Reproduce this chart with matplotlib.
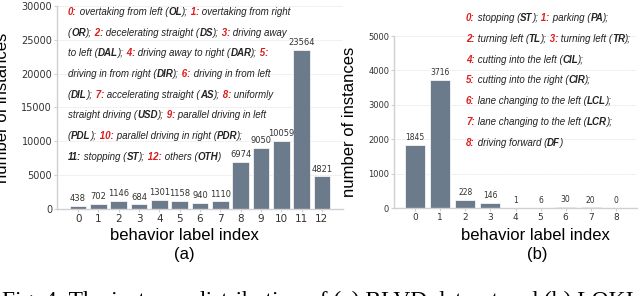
import re
import matplotlib
matplotlib.use("Agg")
import matplotlib.pyplot as plt

# (a) BLVD
blvd_idx = list(range(13))
blvd_counts = [438, 702, 1146, 684, 1301, 1158, 940, 1110, 6974, 9050, 10059, 23564, 4821]
blvd_legend = [
    "#0:# overtaking from left (*OL*); #1:# overtaking from right",
    "(*OR*); #2:# decelerating straight (*DS*); #3:# driving away",
    "to left (*DAL*); #4:# driving away to right (*DAR*); #5:#",
    "driving in from right (*DIR*); #6:# driving in from left",
    "(*DIL*); #7:# accelerating straight (*AS*); #8:# uniformly",
    "straight driving (*USD*); #9:# parallel driving in left",
    "(*PDL*); #10:# parallel driving in right (*PDR*);",
    "*11:* stopping (*ST*); #12:# others (*OTH*)",
]

# (b) LOKI
loki_idx = list(range(9))
loki_counts = [1845, 3716, 228, 146, 1, 6, 30, 20, 0]
loki_legend = [
    "#0:# stopping (*ST*); #1:# parking (*PA*);",
    "#2:# turning left (*TL*); #3:# turning left (*TR*);",
    "#4:# cutting into the left (*CIL*);",
    "#5:# cutting into the right (*CIR*);",
    "#6:# lane changing to the left (*LCL*);",
    "#7:# lane changing to the left (*LCR*);",
    "#8:# driving forward (*DF*)",
]

caption = "Fig. 4: The instance distribution of (a) BLVD dataset and (b) LOKI dataset."

BAR = "#6c7b8b"
RED = "#d81e1e"
INK = "#222222"
NARROW = ["Liberation Sans Narrow", "Liberation Sans", "DejaVu Sans"]

W, H = 640, 296
fig = plt.figure(figsize=(W / 100, H / 100), dpi=100)


def px_ax(l, t, r, b):
    return fig.add_axes([l / W, 1 - b / H, (r - l) / W, (b - t) / H])


def style_axes(ax, ytick_fs):
    for s in ["top", "right"]:
        ax.spines[s].set_visible(False)
    for s in ["left", "bottom"]:
        ax.spines[s].set_color("#d0d0d0")
        ax.spines[s].set_linewidth(1.0)
    ax.tick_params(axis="both", length=2, color="#d0d0d0", labelcolor="#333333", pad=1.5)
    ax.tick_params(axis="y", labelsize=ytick_fs)
    ax.grid(axis="y", color="#e6e6e6", linewidth=0.6, linestyle=(0, (2, 1)))
    ax.set_axisbelow(True)


def chain_lines(lines, x0, y0, dy, fs):
    # *x* = bold, #x# = bold red; pieces are chained one after another
    for i, line in enumerate(lines):
        parts = [p for p in re.split(r"(\*[^*]+\*|#[^#]+#)", line) if p]
        prev = None
        carry = ""
        for j, p in enumerate(parts):
            weight, color = "normal", INK
            if p.startswith("*"):
                p, weight = p[1:-1], "bold"
            elif p.startswith("#"):
                p, weight, color = p[1:-1], "bold", RED
            p = carry + p
            carry = ""
            if p.endswith(" ") and j < len(parts) - 1:
                carry = " "
                p = p.rstrip(" ")
            kw = dict(fontsize=fs, style="italic", weight=weight, color=color, family=NARROW)
            if prev is None:
                prev = fig.text(x0 / W, 1 - (y0 + i * dy) / H, p, ha="left", va="center", **kw)
            else:
                prev = fig.add_artist(plt.Annotation(p, xy=(1, 0), xycoords=prev,
                                                     ha="left", va="bottom", **kw))


# ---- (a)
ax1 = px_ax(57, 6, 343, 209)
ax1.bar(blvd_idx, blvd_counts, width=0.82, color=BAR, edgecolor="white", linewidth=0.5)
ax1.set_xlim(-1.04, 12 + 1.04)
ax1.set_ylim(0, 30000)
ax1.set_yticks([0, 5000, 10000, 15000, 20000, 25000, 30000])
ax1.set_xticks(blvd_idx)
style_axes(ax1, 7)
ax1.tick_params(axis="x", labelsize=7.5)
for x, v in zip(blvd_idx, blvd_counts):
    ax1.annotate(str(v), (x, v), xytext=(0, 2), textcoords="offset points",
                 ha="center", va="bottom", fontsize=6, color="#333333")
ax1.set_ylabel("number of instances", fontsize=12, family="Liberation Sans")
ax1.yaxis.set_label_coords(-0.165, 0.5)
fig.text(184 / W, 1 - 235 / H, "behavior label index", ha="center", va="center",
         fontsize=12, family="Liberation Sans")
fig.text(184 / W, 1 - 254 / H, "(a)", ha="center", va="center", fontsize=12, family="Liberation Sans")
chain_lines(blvd_legend, 68, 12, 20.7, 7.0)

# ---- (b)
ax2 = px_ax(394, 36, 637, 208)
ax2.bar(loki_idx, loki_counts, width=0.8, color=BAR, edgecolor="white", linewidth=0.5)
ax2.set_xlim(-0.84, 8 + 0.84)
ax2.set_ylim(0, 5000)
ax2.set_yticks([0, 1000, 2000, 3000, 4000, 5000])
ax2.set_xticks(loki_idx)
style_axes(ax2, 6)
ax2.tick_params(axis="x", labelsize=6.5)
for x, v in zip(loki_idx, loki_counts):
    ax2.annotate(str(v), (x, v), xytext=(0, 2), textcoords="offset points",
                 ha="center", va="bottom", fontsize=5.5, color="#333333")
ax2.set_ylabel("number of instances", fontsize=12, family="Liberation Sans")
ax2.yaxis.set_label_coords(-0.152, 0.5)
fig.text(535 / W, 1 - 235 / H, "behavior label index", ha="center", va="center",
         fontsize=12, family="Liberation Sans")
fig.text(537 / W, 1 - 255 / H, "(b)", ha="center", va="center", fontsize=12, family="Liberation Sans")
chain_lines(loki_legend, 466, 18, 20.8, 7.0)

# caption, cut at the bottom edge like the source crop
fig.text(2 / W, 1 - 307 / H, caption, ha="left", va="baseline", fontsize=16.9, family="Liberation Serif")

fig.savefig("out.png", dpi=100)
